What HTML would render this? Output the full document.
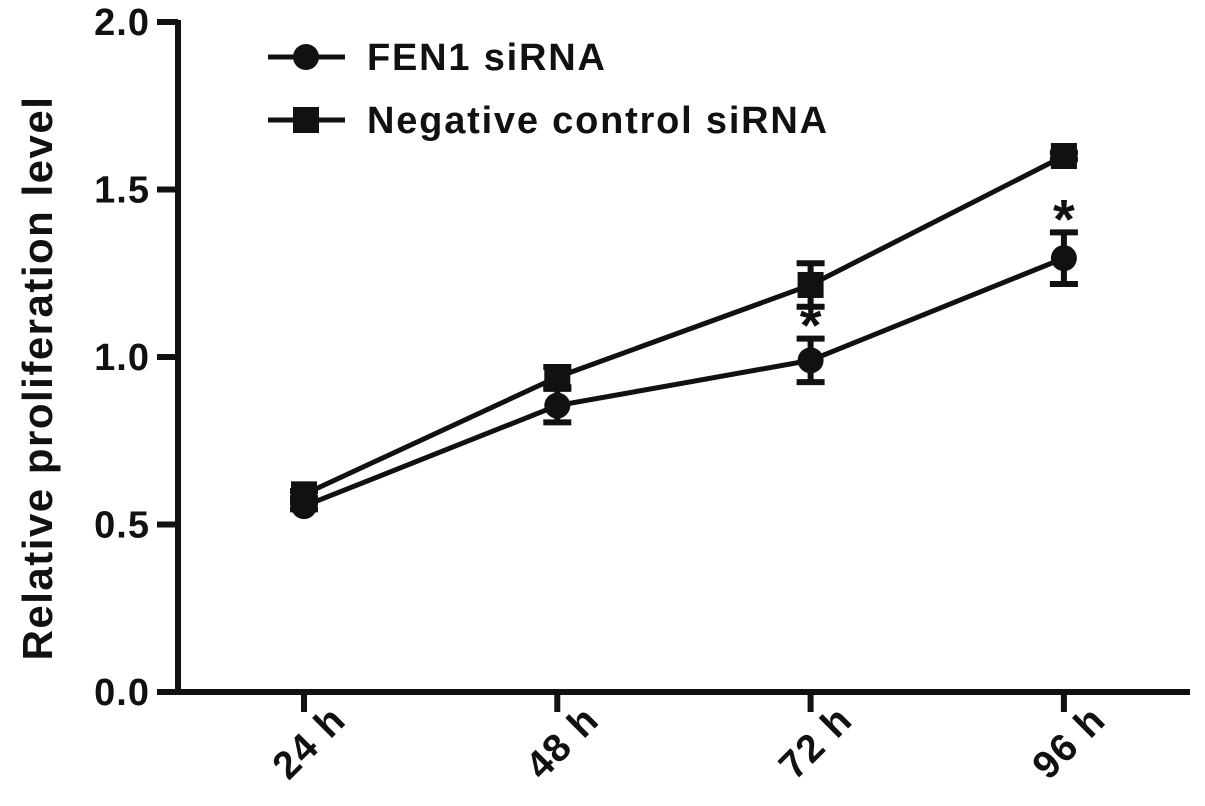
<!DOCTYPE html>
<html><head><meta charset="utf-8"><style>
html,body{margin:0;padding:0;background:#fff;}
svg{display:block;font-family:"Liberation Sans",Arial,sans-serif;font-weight:bold;}
</style></head><body>
<svg id="chart" width="1205" height="806" viewBox="0 0 1205 806"></svg>
<script>
const categories = ["24 h","48 h","72 h","96 h"];
const yTicks = [0.0,0.5,1.0,1.5,2.0];
const yTickLabels = ["0.0","0.5","1.0","1.5","2.0"];
const fenValues = [0.555,0.855,0.99,1.295];
const fenErrors = [0.01,0.05,0.065,0.077];
const ncValues = [0.59,0.94,1.215,1.6];
const ncErrors = [0.01,0.03,0.065,0.01];
const starIdx = [2,3];

const svg = document.getElementById('chart');
const NS = 'http://www.w3.org/2000/svg';
const x0=178, x1=1190, yTop=22, yBot=692;
const xPos = i => 304 + i*253.3;
const yPos = v => yBot - (v/2.0)*(yBot-yTop);
function el(tag, attrs, parent){const e=document.createElementNS(NS,tag);for(const k in attrs)e.setAttribute(k,attrs[k]);(parent||svg).appendChild(e);return e;}

const axes = el('g',{});


const ya = el('line',{x1:x0,y1:yTop-2,x2:x0,y2:yBot,stroke:'#111','stroke-width':6},axes);


const xa = el('line',{x1:157,y1:yBot,x2:x1,y2:yBot,stroke:'#111','stroke-width':6},axes);



yTicks.forEach((v,i)=>{
  const t = el('line',{x1:157,y1:yPos(v),x2:x0,y2:yPos(v),stroke:'#111','stroke-width':6},axes);
  
  
  const tx = el('text',{x:150,y:yPos(v)+13,'text-anchor':'end','font-size':38,'letter-spacing':1,fill:'#111'},axes);
  
  
  tx.textContent = yTickLabels[i];
});
categories.forEach((c,i)=>{
  const x=xPos(i);
  const t = el('line',{x1:x,y1:yBot,x2:x,y2:712,stroke:'#111','stroke-width':6},axes);
  
  
  const tx = el('text',{x:0,y:0,'text-anchor':'end','font-size':39,'letter-spacing':1.5,fill:'#111',transform:`translate(${x+44},${722}) rotate(-45)`},axes);
  
  
  tx.textContent = c;
});
const yt = el('text',{x:0,y:0,'text-anchor':'middle','font-size':42,'letter-spacing':1.5,fill:'#111',transform:`translate(52,378) rotate(-90)`});


yt.textContent='Relative proliferation level';

function series(vals, errs, marker, name){
  const g = el('g',{});
  
  
  const pts = vals.map((v,i)=>xPos(i)+','+yPos(v)).join(' ');
  el('polyline',{points:pts,fill:'none',stroke:'#111','stroke-width':5},g);
  vals.forEach((v,i)=>{
    const x=xPos(i), yh=yPos(v+errs[i]), yl=yPos(v-errs[i]);
    const eb = el('path',{d:`M${x},${yh}V${yl}M${x-14},${yh}H${x+14}M${x-14},${yl}H${x+14}`,stroke:'#111','stroke-width':6,fill:'none'},g);
    
    
    let m;
    if(marker==='circle') m = el('circle',{cx:x,cy:yPos(v),r:13,fill:'#111'},g);
    else m = el('rect',{x:x-13,y:yPos(v)-13,width:26,height:26,fill:'#111'},g);
    
    
  });
}
series(ncValues, ncErrors, 'square', 'negative-control-series');
series(fenValues, fenErrors, 'circle', 'fen1-series');

starIdx.forEach(i=>{
  const s = el('text',{x:xPos(i),y:yPos(fenValues[i]+fenErrors[i])+6,'text-anchor':'middle','font-size':56,fill:'#111'});
  
  
  s.textContent='*';
});

const lg = el('g',{});


[['FEN1 siRNA','circle',57],['Negative control siRNA','square',120]].forEach(([t,m,y])=>{
  const e = el('g',{},lg);
  
  
  el('line',{x1:268,y1:y,x2:345,y2:y,stroke:'#111','stroke-width':5},e);
  if(m==='circle') el('circle',{cx:306,cy:y,r:13,fill:'#111'},e);
  else el('rect',{x:293,y:y-13,width:26,height:26,fill:'#111'},e);
  const tx = el('text',{x:367,y:y+13,'font-size':38,'letter-spacing':1.8,fill:'#111'},e);
  tx.textContent=t;
});
</script>
</body></html>
